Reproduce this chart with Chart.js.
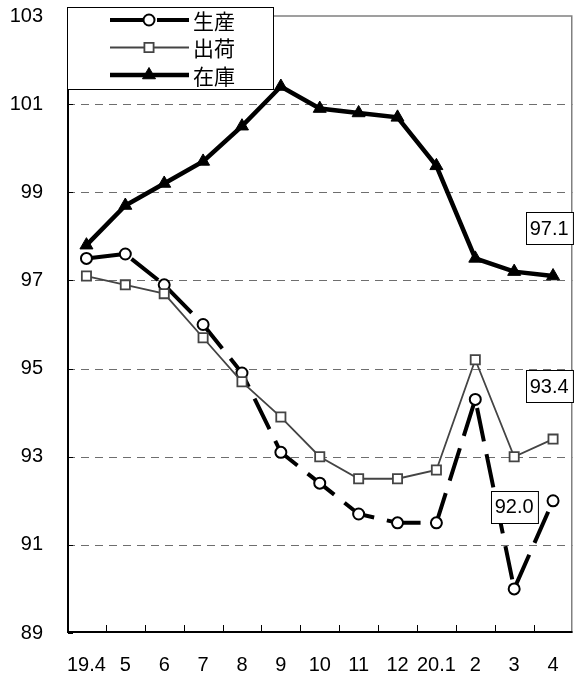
<!DOCTYPE html>
<html><head><meta charset="utf-8">
<script src="https://cdn.jsdelivr.net/npm/chart.js@4/dist/chart.umd.min.js"></script>
<style>html,body{margin:0;padding:0;background:#fff}#wrap{position:relative;width:581px;height:675px}</style>
</head><body><div id="wrap"><canvas id="c" width="581" height="675"></canvas></div>
<script>
// ---- data ----
const categories = ['19.4','5','6','7','8','9','10','11','12','20.1','2','3','4'];
const seriesNames = ['生産','出荷','在庫'];
const production = [97.5,97.6,96.9,96.0,94.9,93.1,92.4,91.7,91.5,91.5,94.3,90.0,92.0];
const shipments  = [97.1,96.9,96.7,95.7,94.7,93.9,93.0,92.5,92.5,92.7,95.2,93.0,93.4];
const inventory  = [97.8,98.7,99.2,99.7,100.5,101.4,100.9,100.8,100.7,99.6,97.5,97.2,97.1];
const yTicks = [89,91,93,95,97,99,101,103];
// callout anchors (category position, value position) for the latest values
const calloutSeries = [2,1,0];
const calloutX = [11.9,11.9,11.0];
const calloutY = [98.18,94.6,91.86];

const TICK_FONT = '20px "Liberation Sans", Arial, sans-serif';
const LEGEND_FONT = '21px "Noto Sans CJK JP", sans-serif';

const frame = {
  id:'frame',
  beforeDatasetsDraw(chart){
    const {ctx, chartArea:a, scales:{x,y}} = chart;
    ctx.save();
    // dashed grid
    ctx.strokeStyle='#6e6e6e'; ctx.lineWidth=1; ctx.setLineDash([8,6]);
    yTicks.forEach(v=>{
      if(v===yTicks[0]||v===yTicks[yTicks.length-1]) return;
      const py=Math.round(y.getPixelForValue(v))+0.5;
      ctx.beginPath(); ctx.moveTo(a.left,py); ctx.lineTo(a.right,py); ctx.stroke();
    });
    ctx.setLineDash([]);
    // top/right border
    ctx.strokeStyle='#808080'; ctx.lineWidth=1.5;
    ctx.beginPath(); ctx.moveTo(a.left,a.top); ctx.lineTo(a.right-0.75,a.top); ctx.lineTo(a.right-0.75,a.bottom); ctx.stroke();
    // axes
    ctx.strokeStyle='#000'; ctx.lineWidth=2;
    ctx.beginPath(); ctx.moveTo(a.left+1,a.top); ctx.lineTo(a.left+1,a.bottom-1); ctx.lineTo(a.right,a.bottom-1); ctx.stroke();
    // inward tick marks
    ctx.lineWidth=1;
    for(let i=0;i<categories.length-1;i++){
      const px=Math.round((x.getPixelForValue(i)+x.getPixelForValue(i+1))/2)+0.5;
      ctx.beginPath(); ctx.moveTo(px,a.bottom-1); ctx.lineTo(px,a.bottom-8); ctx.stroke();
    }
    yTicks.forEach(v=>{
      const py=Math.round(y.getPixelForValue(v))+0.5;
      ctx.beginPath(); ctx.moveTo(a.left+1,py); ctx.lineTo(a.left+6,py); ctx.stroke();
    });
    ctx.restore();
  }
};

function drawMarker(ctx, ds, px, py){
  const o={pointStyle:ds.pointStyle, radius:ds.pointRadius, borderWidth:ds.pointBorderWidth, rotation:0};
  ctx.save();
  ctx.setLineDash([]);
  ctx.fillStyle=ds.pointBackgroundColor; ctx.strokeStyle=ds.pointBorderColor; ctx.lineWidth=ds.pointBorderWidth;
  Chart.helpers.drawPoint(ctx,o,px,py);
  ctx.restore();
}

const overlay = {
  id:'overlay',
  afterDatasetsDraw(chart){
    const {ctx, scales:{x,y}} = chart;
    ctx.save();
    // legend box
    const lx=67, ly=7, lw=206, lh=82;
    ctx.fillStyle='#fff'; ctx.fillRect(lx,ly,lw,lh);
    ctx.strokeStyle='#000'; ctx.lineWidth=1; ctx.strokeRect(lx+0.5,ly+0.5,lw,lh);
    const rows=[20,47.5,75];
    chart.data.datasets.forEach((ds,i)=>{
      const ry=rows[i];
      ctx.save();
      ctx.strokeStyle=ds.borderColor; ctx.lineWidth=ds.borderWidth; ctx.setLineDash(ds.borderDash||[]);
      ctx.beginPath(); ctx.moveTo(110,ry); ctx.lineTo(189,ry); ctx.stroke();
      ctx.restore();
      drawMarker(ctx,ds,149,ry);
      ctx.fillStyle='#000'; ctx.font=LEGEND_FONT; ctx.textBaseline='middle'; ctx.textAlign='left';
      ctx.fillText(ds.label,193,ry+1);
    });
    // callouts with latest values
    ctx.font=TICK_FONT; ctx.textAlign='center'; ctx.textBaseline='middle';
    calloutSeries.forEach((s,k)=>{
      const data=chart.data.datasets[s].data;
      const txt=data[data.length-1].toFixed(1);
      const cx=x.getPixelForValue(calloutX[k]);
      const cy=y.getPixelForValue(calloutY[k]);
      const w=ctx.measureText(txt).width+8, h=32;
      const bx=Math.round(cx-w/2)+0.5, by=Math.round(cy-h/2)+0.5;
      ctx.fillStyle='#fff'; ctx.fillRect(bx,by,w,h);
      ctx.strokeStyle='#000'; ctx.lineWidth=1; ctx.strokeRect(bx,by,w,h);
      ctx.fillStyle='#000'; ctx.fillText(txt,cx,cy+1);
    });
    ctx.restore();
  }
};

new Chart(document.getElementById('c'),{
  type:'line',
  data:{
    labels:categories,
    datasets:[
      {label:seriesNames[0], data:production, order:2, borderColor:'#000', borderWidth:4, borderDash:[34,13],
       pointStyle:'circle', pointRadius:5.5, pointBorderWidth:2, pointBackgroundColor:'#fff', pointBorderColor:'#000', tension:0},
      {label:seriesNames[1], data:shipments, order:1, borderColor:'#444', borderWidth:1.8,
       pointStyle:'rect', pointRadius:6.5, pointBorderWidth:1.8, pointBackgroundColor:'#fff', pointBorderColor:'#444', tension:0},
      {label:seriesNames[2], data:inventory, order:0, borderColor:'#000', borderWidth:4.5,
       pointStyle:'triangle', pointRadius:7.5, pointBorderWidth:1, pointBackgroundColor:'#000', pointBorderColor:'#000', tension:0}
    ]
  },
  options:{
    responsive:false, animation:false, devicePixelRatio:1,
    layout:{padding:{top:16,right:2,left:0,bottom:0}},
    plugins:{legend:{display:false}, tooltip:{enabled:false}},
    scales:{
      x:{type:'category', offset:true,
         grid:{display:false, drawTicks:false}, border:{display:false},
         ticks:{color:'#000', font:{family:'"Liberation Sans", Arial, sans-serif', size:20}, padding:20, maxRotation:0, autoSkip:false},
         afterFit(s){ s.height=42; s.paddingLeft=0; s.paddingRight=0; }},
      y:{min:89, max:103,
         grid:{display:false, drawTicks:false}, border:{display:false},
         afterBuildTicks(s){ s.ticks = yTicks.map(v=>({value:v})); },
         ticks:{color:'#000', font:{family:'"Liberation Sans", Arial, sans-serif', size:20}, padding:24},
         afterFit(s){ s.width=67; s.paddingTop=0; s.paddingBottom=0; }}
    }
  },
  plugins:[frame, overlay]
});
</script></body></html>
